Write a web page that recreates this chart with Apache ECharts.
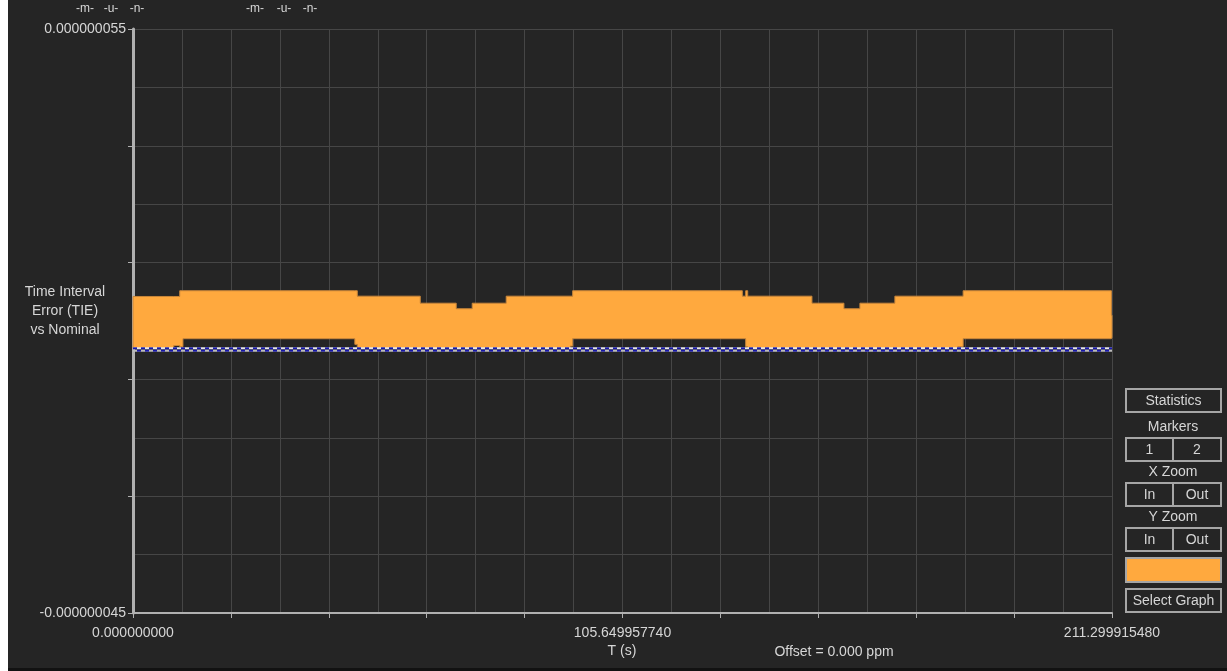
<!DOCTYPE html>
<html>
<head>
<meta charset="utf-8">
<script src="https://cdn.jsdelivr.net/npm/echarts@6/dist/echarts.min.js"></script>
<style>
  html, body { margin: 0; padding: 0; background: #ffffff; }
  #chart { width: 1227px; height: 671px; }
</style>
</head>
<body>
<div id="chart"></div>
<script>
// Time axis (seconds)
const xMin = 0;
const xMax = 211.299915480;
const xTickStep = 21.129991548;
const xTickLabels = ['0.000000000', '105.649957740', '211.299915480'];

// TIE axis (nanoseconds)
const yMin = -45;
const yMax = 55;
const yTickStep = 20;
const yTickLabels = ['-0.000000045', '0.000000055'];

// TIE envelope: per time segment, upper and lower bound (ns)
const segStart  = [0.00, 8.80, 10.09, 10.78, 47.88, 48.41, 62.00, 69.76, 73.21, 80.55, 94.35, 94.89, 131.51, 132.24, 132.67, 146.54, 153.44, 156.89, 164.44, 178.02, 179.17, 211.17];
const segEnd    = [8.80, 10.09, 10.78, 47.88, 48.41, 62.00, 69.76, 73.21, 80.55, 94.35, 94.89, 131.51, 132.24, 132.67, 146.54, 153.44, 156.89, 164.44, 178.02, 179.17, 211.17, 211.30];
const bandTop   = [9.20, 9.20, 10.18, 10.18, 10.18, 9.25, 8.05, 7.10, 8.05, 9.25, 9.25, 10.18, 9.25, 10.18, 9.25, 8.05, 7.10, 8.05, 9.25, 9.25, 10.18, 6.00];
const bandBottom= [0.30, 0.80, 0.60, 1.97, 1.00, 0.30, 0.30, 0.30, 0.30, 0.30, 0.70, 1.97, 1.97, 0.60, 0.30, 0.30, 0.30, 0.30, 0.30, 0.60, 1.97, 2.10];

// Reference levels (ns), drawn as dotted lines
const refLevels = [0.32, -0.08];

const FONT = 'Liberation Sans';
const TXT = '#d6d6d6';
const ORANGE = '#ffa93e';
const BTN = '#a6a6a6';

const chart = echarts.init(document.getElementById('chart'), null, { renderer: 'canvas' });

function refSeries(level, color, dash, offset) {
  return {
    type: 'line',
    data: [[xMin, level], [xMax, level]],
    symbol: 'none',
    silent: true,
    z: 5,
    lineStyle: { color: color, width: 2, type: dash, dashOffset: offset }
  };
}

function button(x, y, w, h, label) {
  const out = [{
    type: 'rect', shape: { x: x, y: y, width: w, height: h },
    style: { fill: 'none', stroke: BTN, lineWidth: 2 }
  }];
  if (label) {
    out.push({
      type: 'text', x: x + w / 2, y: y + h / 2 + 1,
      style: { text: label, fill: TXT, font: '14px ' + FONT, textAlign: 'center', textVerticalAlign: 'middle' }
    });
  }
  return out;
}

function label(x, y, text, size) {
  return {
    type: 'text', x: x, y: y,
    style: { text: text, fill: TXT, font: (size || 14) + 'px ' + FONT, textAlign: 'center', textVerticalAlign: 'middle' }
  };
}

const graphics = [
  { type: 'rect', shape: { x: 0, y: 0, width: 8, height: 671 }, style: { fill: '#ffffff' }, z: 100 },
  { type: 'rect', shape: { x: 8, y: 668, width: 1219, height: 3 }, style: { fill: '#121212' }, z: 100 },
  label(85, 9, '-m-', 12), label(111, 9, '-u-', 12), label(137, 9, '-n-', 12),
  label(255, 9, '-m-', 12), label(284, 9, '-u-', 12), label(310, 9, '-n-', 12),
  label(65, 292, 'Time Interval'),
  label(65, 311, 'Error (TIE)'),
  label(65, 330, 'vs Nominal'),
  label(622, 651, 'T (s)'),
  label(834, 652, 'Offset = 0.000 ppm'),
  ...button(1126, 389, 95, 23, 'Statistics'),
  label(1173, 427, 'Markers'),
  ...button(1126, 438, 47, 23, '1'),
  ...button(1173, 438, 48, 23, '2'),
  label(1173, 472, 'X Zoom'),
  ...button(1126, 483, 47, 23, 'In'),
  ...button(1173, 483, 48, 23, 'Out'),
  label(1173, 517, 'Y Zoom'),
  ...button(1126, 528, 47, 23, 'In'),
  ...button(1173, 528, 48, 23, 'Out'),
  { type: 'rect', shape: { x: 1126, y: 558, width: 95, height: 24 }, style: { fill: ORANGE, stroke: BTN, lineWidth: 2 } },
  ...button(1126, 589, 95, 23, 'Select Graph')
];

const option = {
  backgroundColor: '#252525',
  animation: false,
  grid: { left: 133, right: 115, top: 29, bottom: 58 },
  xAxis: {
    type: 'value',
    min: xMin, max: xMax, interval: xTickStep,
    axisLine: { onZero: false, lineStyle: { color: '#b0b0b0', width: 2 } },
    axisTick: { show: true, length: 5, lineStyle: { color: '#b0b0b0', width: 1 } },
    minorTick: { show: false, splitNumber: 2 },
    splitLine: { show: true, lineStyle: { color: '#464646', width: 1 } },
    minorSplitLine: { show: true, lineStyle: { color: '#464646', width: 1 } },
    axisLabel: {
      color: TXT, fontFamily: FONT, fontSize: 14, margin: 13,
      showMinLabel: true, showMaxLabel: true,
      formatter: function (v, i) { return i % 5 === 0 ? (xTickLabels[i / 5] || '') : ''; }
    }
  },
  yAxis: {
    type: 'value',
    min: yMin, max: yMax, interval: yTickStep,
    axisLine: { onZero: false, lineStyle: { color: '#b0b0b0', width: 3 } },
    axisTick: { show: true, length: 5, lineStyle: { color: '#b0b0b0', width: 1 } },
    minorTick: { show: false, splitNumber: 2 },
    splitLine: { show: true, lineStyle: { color: '#464646', width: 1 } },
    minorSplitLine: { show: true, lineStyle: { color: '#464646', width: 1 } },
    axisLabel: {
      color: TXT, fontFamily: FONT, fontSize: 14, margin: 7,
      showMinLabel: true, showMaxLabel: true,
      formatter: function (v) {
        if (Math.abs(v - yMin) < 1e-6) return yTickLabels[0];
        if (Math.abs(v - yMax) < 1e-6) return yTickLabels[1];
        return '';
      }
    }
  },
  series: [
    {
      type: 'custom',
      coordinateSystem: 'cartesian2d',
      silent: true,
      clip: false,
      z: 3,
      data: [[segStart[0], bandBottom[0]]],
      renderItem: function (params, api) {
        const pts = [];
        for (let i = 0; i < segStart.length; i++) {
          pts.push(api.coord([segStart[i], bandTop[i]]));
          pts.push(api.coord([segEnd[i], bandTop[i]]));
        }
        for (let i = segStart.length - 1; i >= 0; i--) {
          pts.push(api.coord([segEnd[i], bandBottom[i]]));
          pts.push(api.coord([segStart[i], bandBottom[i]]));
        }
        return {
          type: 'polygon',
          shape: { points: pts },
          style: { fill: ORANGE, stroke: '#c8863a', lineWidth: 1 }
        };
      }
    },
    refSeries(refLevels[0], '#e6e6e6', 'solid', 0),
    refSeries(refLevels[0], '#1818a8', [4, 4], 0),
    refSeries(refLevels[1], '#bdbdbd', 'solid', 0),
    refSeries(refLevels[1], '#1818a8', [4, 4], 4)
  ],
  graphic: graphics
};

chart.setOption(option);
</script>
</body>
</html>
